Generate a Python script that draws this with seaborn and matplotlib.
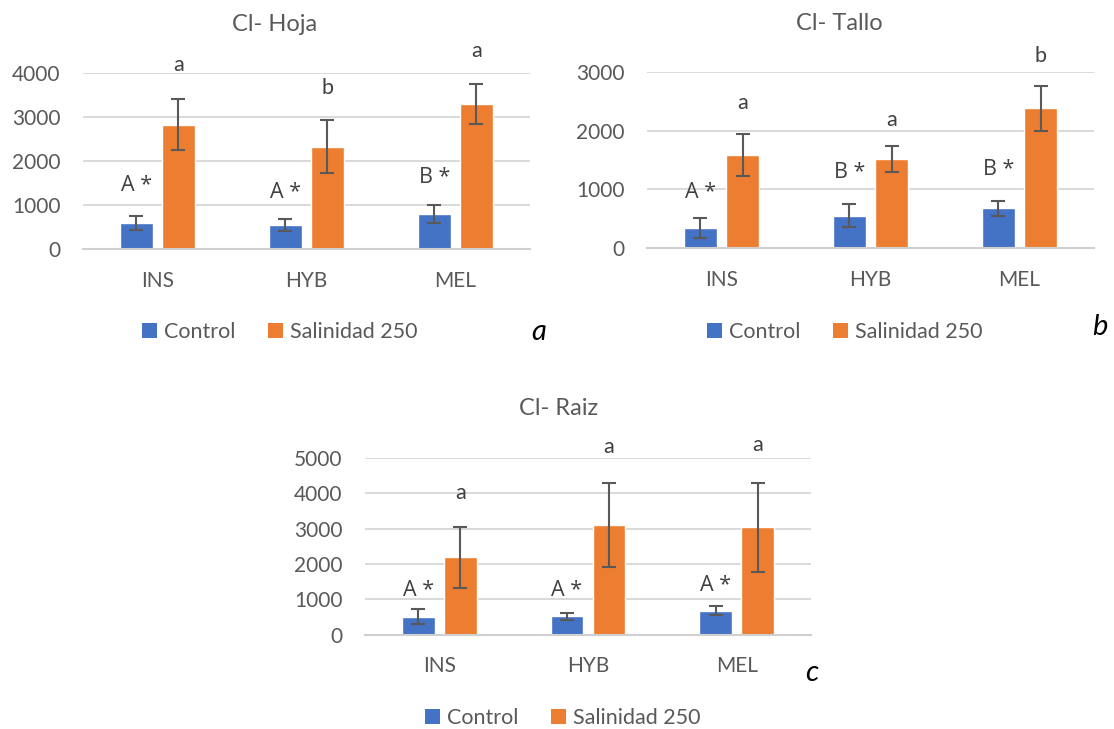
import matplotlib
matplotlib.use("Agg")
import matplotlib.pyplot as plt
import seaborn as sns
import pandas as pd
from matplotlib.patches import Patch

# ---------------- data ----------------
cultivars = ["INS", "HYB", "MEL"]
treatments = ["Control", "Salinidad 250"]

hoja_control = [590, 545, 790]
hoja_control_err = [165, 140, 210]
hoja_sal = [2820, 2320, 3290]
hoja_sal_err = [575, 605, 460]
hoja_control_letters = ["A *", "A *", "B *"]
hoja_sal_letters = ["a", "b", "a"]
hoja_control_letter_y = [1434, 1283, 1623]
hoja_sal_letter_y = [4170, 3660, 4490]

tallo_control = [350, 555, 680]
tallo_control_err = [170, 190, 125]
tallo_sal = [1590, 1515, 2380]
tallo_sal_err = [360, 225, 385]
tallo_control_letters = ["A *", "B *", "B *"]
tallo_sal_letters = ["a", "a", "b"]
tallo_control_letter_y = [945, 1291, 1347]
tallo_sal_letter_y = [2463, 2180, 3273]

raiz_control = [510, 520, 680]
raiz_control_err = [215, 100, 120]
raiz_sal = [2190, 3095, 3040]
raiz_sal_err = [870, 1190, 1255]
raiz_control_letters = ["A *", "A *", "A *"]
raiz_sal_letters = ["a", "a", "a"]
raiz_control_letter_y = [1245, 1264, 1405]
raiz_sal_letter_y = [4000, 5320, 5358]

titles = ["Cl- Hoja", "Cl- Tallo", "Cl- Raiz"]
panel_tags = ["a", "b", "c"]
y_ticks = [[0, 1000, 2000, 3000, 4000],
           [0, 1000, 2000, 3000],
           [0, 1000, 2000, 3000, 4000, 5000]]

# ---------------- style ----------------
sns.set_theme(style="white")
plt.rcParams["font.family"] = ["Lato", "DejaVu Sans"]

BLUE = "#4472C4"
ORANGE = "#ED7D31"
GRAY = "#595959"
GRID = "#d9d9d9"

W, H = 1114, 729
fig = plt.figure(figsize=(W / 100, H / 100), dpi=100)


def px_axes(x0, x1, y_top, y_bot):
    return fig.add_axes([x0 / W, 1 - y_bot / H, (x1 - x0) / W, (y_bot - y_top) / H])


axes = [
    px_axes(82.7, 530, 72.7, 249),
    px_axes(647, 1094, 71.7, 248.3),
    px_axes(365, 811, 458, 634.7),
]

panels = [
    (hoja_control, hoja_control_err, hoja_sal, hoja_sal_err,
     hoja_control_letters, hoja_sal_letters, hoja_control_letter_y, hoja_sal_letter_y),
    (tallo_control, tallo_control_err, tallo_sal, tallo_sal_err,
     tallo_control_letters, tallo_sal_letters, tallo_control_letter_y, tallo_sal_letter_y),
    (raiz_control, raiz_control_err, raiz_sal, raiz_sal_err,
     raiz_control_letters, raiz_sal_letters, raiz_control_letter_y, raiz_sal_letter_y),
]

legend_anchor = [(0.441, -0.471), (0.443, -0.475), (0.444, -0.471)]
title_pos = [(0.43, 1.272), (0.43, 1.272), (0.433, 1.28)]
tag_px = [(539, 332), (1100, 327), (812, 673)]

for i, ax in enumerate(axes):
    ctrl, ctrl_err, sal, sal_err, cl, sl, cly, sly = panels[i]
    df = pd.DataFrame({
        "cultivar": cultivars * 2,
        "treatment": [treatments[0]] * 3 + [treatments[1]] * 3,
        "value": ctrl + sal,
    })
    sns.barplot(data=df, x="cultivar", y="value", hue="treatment",
                order=cultivars, hue_order=treatments,
                palette=[BLUE, ORANGE], width=0.564, gap=0.215,
                errorbar=None, saturation=1, legend=False, ax=ax)

    bars = sorted(ax.patches, key=lambda p: p.get_x())
    xs = [p.get_x() + p.get_width() / 2 for p in bars]
    hs = [p.get_height() for p in bars]
    errs, letters, letter_y = [], [], []
    for k in range(3):
        errs += [ctrl_err[k], sal_err[k]]
        letters += [cl[k], sl[k]]
        letter_y += [cly[k], sly[k]]
    ax.errorbar(xs, hs, yerr=errs, fmt="none", ecolor=GRAY,
                elinewidth=1.5, capsize=5, capthick=1.5, zorder=5)
    for x, ly, t in zip(xs, letter_y, letters):
        fam = ["Open Sans", "DejaVu Sans"] if "*" in t else ["Lato", "DejaVu Sans"]
        ax.text(x, ly, t, ha="center", va="center", fontsize=15.5,
                family=fam, color="#404040", clip_on=False)

    ax.set_ylim(0, y_ticks[i][-1])
    ax.set_yticks(y_ticks[i])
    ax.set_xlim(-0.5, 2.5)
    ax.yaxis.grid(True, color=GRID, linewidth=1.4)
    ax.xaxis.grid(False)
    ax.set_axisbelow(True)
    for s in ["top", "left", "right"]:
        ax.spines[s].set_visible(False)
    ax.spines["bottom"].set_color("#d0d0d0")
    ax.spines["bottom"].set_linewidth(1.5)
    ax.set_xlabel("")
    ax.set_ylabel("")
    ax.tick_params(axis="both", length=0, labelsize=15, labelcolor=GRAY)
    ax.tick_params(axis="y", pad=16)
    ax.tick_params(axis="x", pad=15.5)

    ax.text(title_pos[i][0], title_pos[i][1], titles[i], transform=ax.transAxes,
            ha="center", va="center", fontsize=17, color=GRAY)

    handles = [Patch(facecolor=BLUE, edgecolor="none"),
               Patch(facecolor=ORANGE, edgecolor="none")]
    ax.legend(handles, treatments, loc="center", bbox_to_anchor=legend_anchor[i],
              ncol=2, frameon=False, fontsize=15.5, labelcolor=GRAY,
              handlelength=0.68, handleheight=0.68, handletextpad=0.35,
              columnspacing=1.5, borderaxespad=0)

    fig.text(tag_px[i][0] / W, 1 - tag_px[i][1] / H, panel_tags[i],
             ha="center", va="center", fontsize=21, style="italic", color="black")

fig.savefig("out.png", dpi=100)
